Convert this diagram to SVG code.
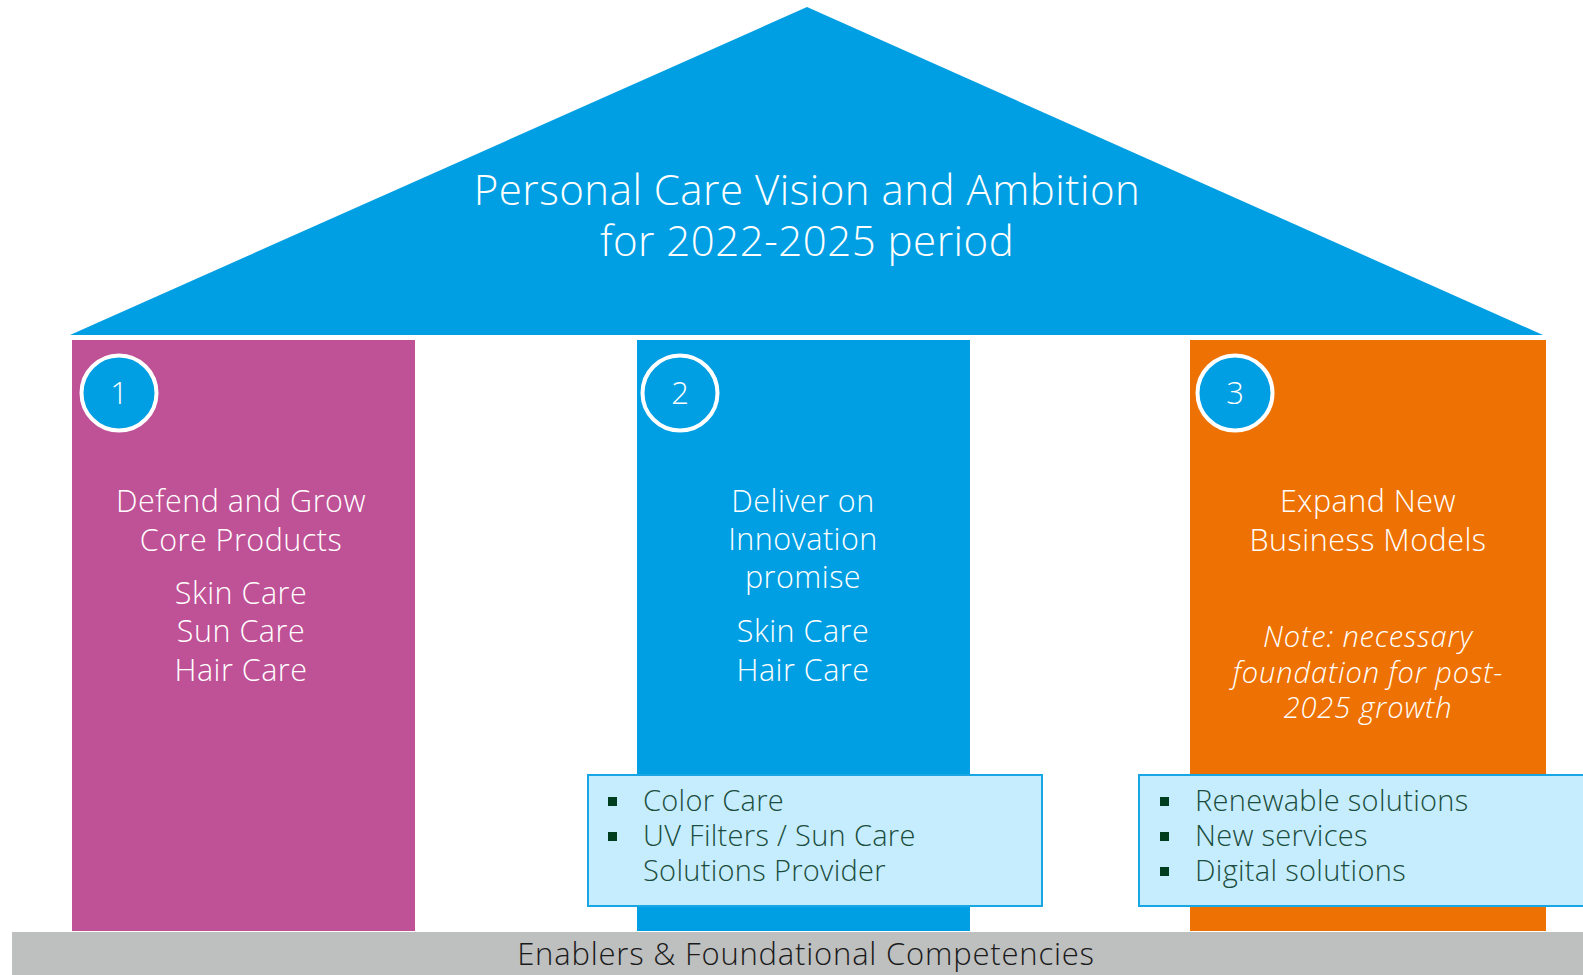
<svg xmlns="http://www.w3.org/2000/svg" width="1583" height="975" viewBox="0 0 1583 975">
<style>
text{font-family:"Open Sans","Noto Sans","Liberation Sans",sans-serif;font-weight:300}
.w{fill:#ffffff}
.title{font-size:42px;letter-spacing:0.5px}
.head{font-size:30.5px;letter-spacing:0.5px}
.note{font-size:29px;font-style:italic;letter-spacing:0.9px}
.num{font-size:31px}
.bul{font-size:29px;letter-spacing:0.3px;fill:#1b4d3e}
.sq{fill:#003d1f}
.box{fill:#c6edfd;stroke:#18a6e5;stroke-width:2}
.circ{fill:#009fe3;stroke:#ffffff;stroke-width:4}
</style>
<rect width="1583" height="975" fill="#ffffff"/>
<g id="roof">
<polygon points="70,335 807,7 1543,335" fill="#009fe3"/>
<text class="title w" x="807" y="205" text-anchor="middle">Personal Care Vision and Ambition</text>
<text class="title w" x="807" y="256" text-anchor="middle">for 2022-2025 period</text>
</g>
<g id="pillar1">
<rect x="72" y="340" width="343" height="591" fill="#bf5196"/>
<circle class="circ" cx="119" cy="393" r="37.5"/>
<text class="num w" x="119" y="404" text-anchor="middle">1</text>
<text class="head w" text-anchor="middle"><tspan x="241" y="512">Defend and Grow</tspan><tspan x="241" y="551">Core Products</tspan><tspan x="241" y="604">Skin Care</tspan><tspan x="241" y="642">Sun Care</tspan><tspan x="241" y="681">Hair Care</tspan></text>
</g>
<g id="pillar2">
<rect x="637" y="340" width="333" height="591" fill="#009fe3"/>
<circle class="circ" cx="680" cy="393" r="37.5"/>
<text class="num w" x="680" y="404" text-anchor="middle">2</text>
<text class="head w" text-anchor="middle"><tspan x="803" y="512">Deliver on</tspan><tspan x="803" y="550">Innovation</tspan><tspan x="803" y="588">promise</tspan><tspan x="803" y="642">Skin Care</tspan><tspan x="803" y="681">Hair Care</tspan></text>
</g>
<g id="pillar3">
<rect x="1190" y="340" width="356" height="591" fill="#ee7203"/>
<circle class="circ" cx="1235" cy="393" r="37.5"/>
<text class="num w" x="1235" y="404" text-anchor="middle">3</text>
<text class="head w" text-anchor="middle"><tspan x="1368" y="512">Expand New</tspan><tspan x="1368" y="551">Business Models</tspan></text>
<text class="note w" text-anchor="middle"><tspan x="1368" y="647">Note: necessary</tspan><tspan x="1368" y="683">foundation for post-</tspan><tspan x="1368" y="718">2025 growth</tspan></text>
</g>
<g id="box2">
<rect class="box" x="588" y="775" width="454" height="131"/>
<rect class="sq" x="608" y="797" width="9" height="9"/>
<rect class="sq" x="608" y="832" width="9" height="9"/>
<text class="bul"><tspan x="643" y="811">Color Care</tspan><tspan x="643" y="846">UV Filters / Sun Care</tspan><tspan x="643" y="881">Solutions Provider</tspan></text>
</g>
<g id="box3">
<rect class="box" x="1139" y="775" width="460" height="131"/>
<rect class="sq" x="1160" y="797" width="9" height="9"/>
<rect class="sq" x="1160" y="832" width="9" height="9"/>
<rect class="sq" x="1160" y="867" width="9" height="9"/>
<text class="bul"><tspan x="1195" y="811">Renewable solutions</tspan><tspan x="1195" y="846">New services</tspan><tspan x="1195" y="881">Digital solutions</tspan></text>
</g>
<g id="foundation">
<rect x="12" y="932" width="1571" height="43" fill="#bebfbf"/>
<text x="806" y="965" text-anchor="middle" font-size="31" letter-spacing="0.8" fill="#1a1a1a">Enablers &amp; Foundational Competencies</text>
</g>
<g id="connectors"></g>
</svg>
